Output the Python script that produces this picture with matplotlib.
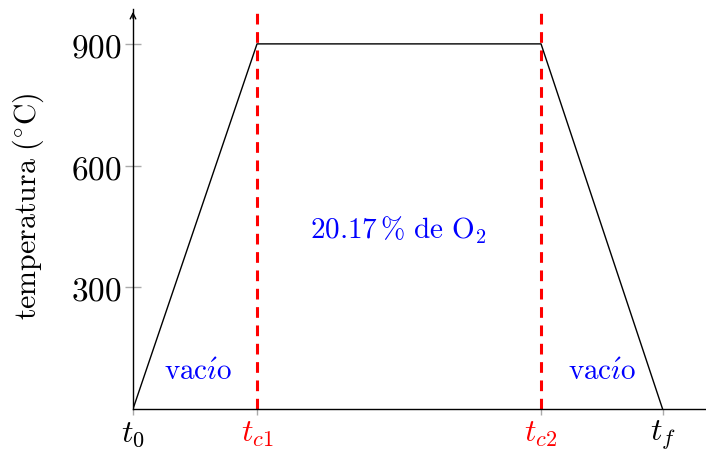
import matplotlib.pyplot as plt

plt.rcParams['mathtext.fontset'] = 'cm'
plt.rcParams['font.family'] = 'serif'
plt.rcParams['font.serif'] = ['DejaVu Serif']

# heating cycle: ramp up in vacuum, hold under oxygen, cool in vacuum
times = [0, 1.0, 3.29, 4.27]
temps = [0, 900, 900, 0]
tick_labels = [r'$t_0$', r'$t_{c1}$', r'$t_{c2}$', r'$t_f$']
tick_colors = ['black', 'red', 'red', 'black']
y_ticks = [300, 600, 900]

fig = plt.figure(figsize=(7.06, 4.52), dpi=100)
ax = fig.add_axes([133 / 706, 42 / 452, 573 / 706, 400 / 452])

ax.plot(times, temps, color='black', lw=1.0, zorder=3)
for t in times[1:3]:
    ax.axvline(t, color='red', lw=2.2, ls=(0, (3.5, 2.5)), zorder=2)

ax.set_xlim(0, 4.62)
ax.set_ylim(0, 986)

for s in ['top', 'right']:
    ax.spines[s].set_visible(False)
ax.spines['left'].set_linewidth(1.0)
ax.spines['bottom'].set_linewidth(1.0)
# arrow head on the y axis
ax.annotate('', xy=(0, 1.0), xytext=(0, 0.97), xycoords='axes fraction',
            arrowprops=dict(arrowstyle='->', lw=1.0, color='black'))

ax.set_xticks(times)
ax.set_xticklabels(tick_labels)
for lbl, c in zip(ax.get_xticklabels(), tick_colors):
    lbl.set_color(c)
ax.tick_params(axis='x', length=4, width=1.0, color='#aaaaaa', labelsize=23, pad=2)

ax.set_yticks(y_ticks)
ax.set_yticklabels([f'${v}$' for v in y_ticks])
ax.tick_params(axis='y', direction='inout', length=12, width=1.0, color='#aaaaaa',
               labelsize=24, pad=2)

ax.set_ylabel(r'$\mathrm{temperatura\ (^{\circ}C)}$', fontsize=21.5)
ax.yaxis.set_label_coords(-0.152, 0.51)

ax.text(0.52, 93, r'$\mathrm{vac\acute{\imath}o}$', color='blue', fontsize=21, ha='center', va='center')
ax.text(3.78, 93, r'$\mathrm{vac\acute{\imath}o}$', color='blue', fontsize=21, ha='center', va='center')
ax.text(2.14, 443, r'$\mathrm{20.17\,\%\ de\ O_2}$', color='blue', fontsize=21, ha='center', va='center')

fig.savefig('out.png', dpi=100)
